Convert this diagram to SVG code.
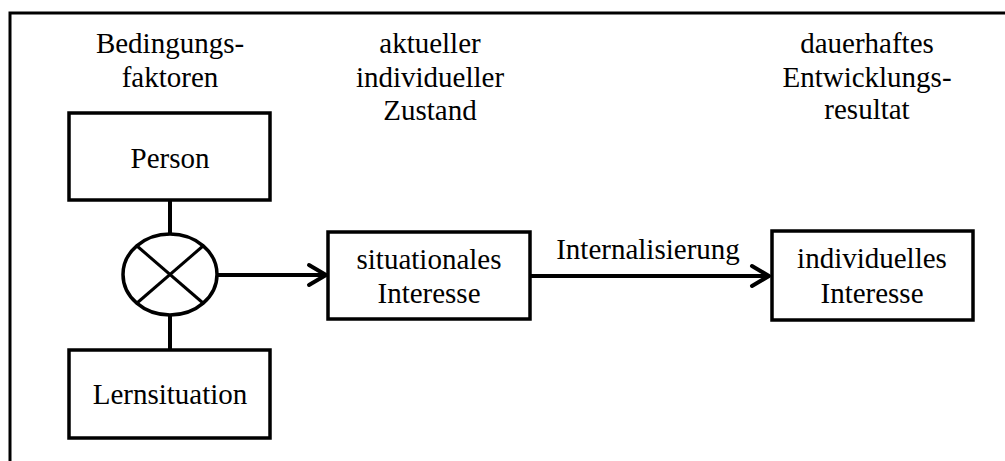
<svg xmlns="http://www.w3.org/2000/svg" width="1005" height="461" viewBox="0 0 1005 461">
<style>
text{font-family:"Liberation Serif","Times New Roman",serif;font-size:29px;fill:#000;text-anchor:middle}
.box{fill:#fff;stroke:#000;stroke-width:3.5}
.con{fill:none;stroke:#000;stroke-width:4}
.head{fill:none;stroke:#000;stroke-width:4;stroke-linecap:round;stroke-linejoin:round}
</style>
<rect x="0" y="0" width="1005" height="461" fill="#fff"/>
<rect x="10" y="13" width="1010" height="470" fill="none" stroke="#000" stroke-width="3"/>
<g id="label-bedingungsfaktoren">
<text x="170" y="53">Bedingungs-</text>
<text x="170" y="87">faktoren</text>
</g>
<g id="label-zustand">
<text x="430" y="53">aktueller</text>
<text x="430" y="87">individueller</text>
<text x="430" y="120">Zustand</text>
</g>
<g id="label-resultat">
<text x="867" y="53">dauerhaftes</text>
<text x="867" y="87">Entwicklungs-</text>
<text x="867" y="119">resultat</text>
</g>
<g id="connectors">
<line class="con" x1="170" y1="200" x2="170" y2="234"/>
<line class="con" x1="170" y1="315" x2="170" y2="350"/>
<line class="con" x1="217" y1="275" x2="325" y2="275"/>
<polyline class="head" points="309,265 326,275 309,285"/>
<line class="con" x1="530" y1="276" x2="768" y2="276"/>
<polyline class="head" points="752,266 769,276 752,286"/>
<text x="648" y="259">Internalisierung</text>
</g>
<g id="person">
<rect class="box" x="69" y="113" width="201" height="87"/>
<text x="170" y="168">Person</text>
</g>
<g id="interaction">
<ellipse cx="170" cy="274.5" rx="47" ry="40.5" fill="#fff" stroke="#000" stroke-width="3.5"/>
<line x1="137" y1="246" x2="203" y2="303" stroke="#000" stroke-width="3"/>
<line x1="203" y1="246" x2="137" y2="303" stroke="#000" stroke-width="3"/>
</g>
<g id="lernsituation">
<rect class="box" x="69" y="350" width="201" height="88"/>
<text x="170" y="404">Lernsituation</text>
</g>
<g id="situationales">
<rect class="box" x="328" y="232" width="202" height="87"/>
<text x="429" y="269">situationales</text>
<text x="429" y="303">Interesse</text>
</g>
<g id="individuelles">
<rect class="box" x="772" y="231" width="201" height="89"/>
<text x="872" y="268">individuelles</text>
<text x="872" y="303">Interesse</text>
</g>
</svg>
